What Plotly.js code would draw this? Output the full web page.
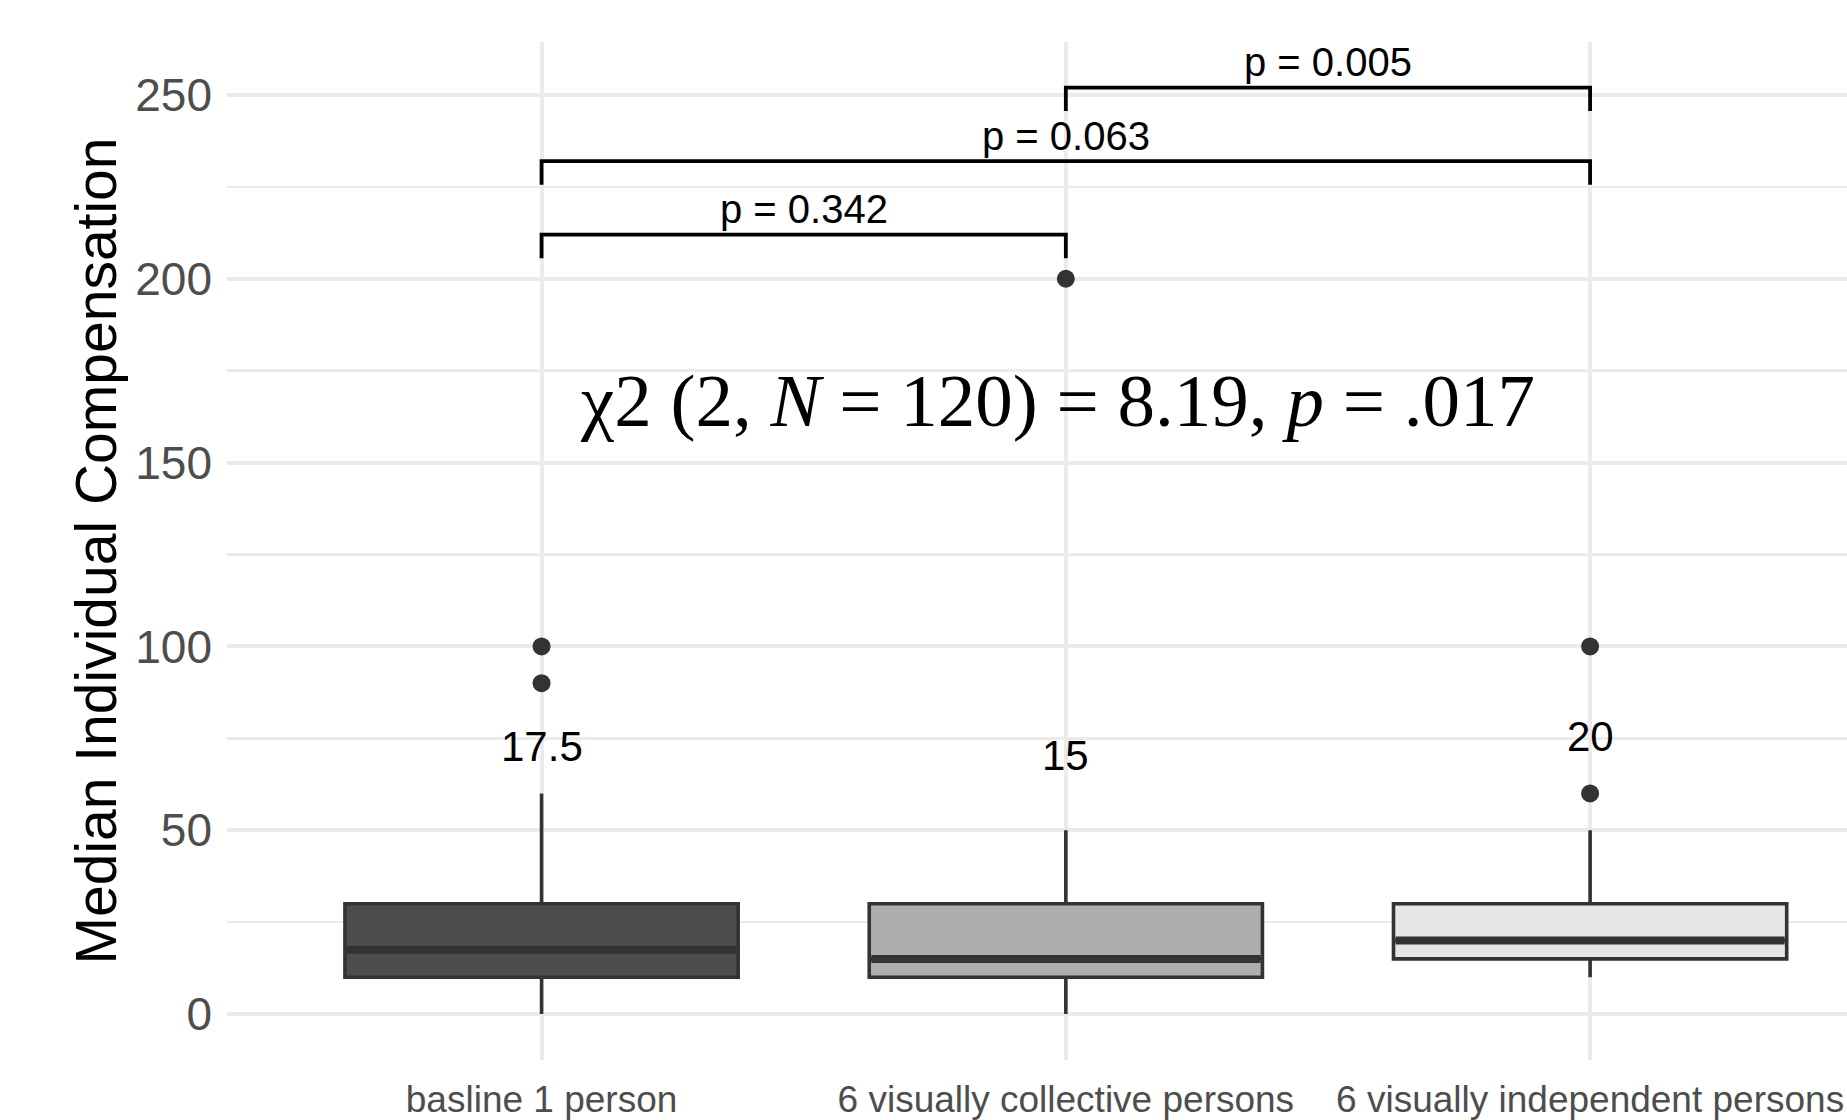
<!DOCTYPE html>
<html>
<head>
<meta charset="utf-8">
<script src="https://cdn.plot.ly/plotly-3.0.1.min.js"></script>
<style>html,body{margin:0;padding:0;background:#fff;}#chart{width:1847px;height:1120px;}</style>
</head>
<body>
<div id="chart"></div>
<script>
// ---- data ----
var categories = ["basline 1 person", "6 visually collective persons", "6 visually independent persons"];
var catPos = [1, 2, 3];
var q1Vals = [10, 10, 15];
var medianVals = [17.5, 15, 20];
var q3Vals = [30, 30, 30];
var lowerWhisker = [0, 0, 10];
var upperWhisker = [60, 50, 50];
var outliers = [[100, 90], [200], [100, 60]];
var medianLabels = ["17.5", "15", "20"];
var boxFills = ["#4D4D4D", "#AEAEAE", "#E6E6E6"];

var compStart = [1, 1, 2];
var compEnd = [2, 3, 3];
var bracketY = [212, 232, 252];
var pLabels = ["p = 0.342", "p = 0.063", "p = 0.005"];

var statText = "\u03c72 (2, <i>N</i> = 120) = 8.19, <i>p</i> = .017";
var statX = 2, statY = 167;

var yTicks = [0, 50, 100, 150, 200, 250];

// ---- style constants ----
var boxWidth = 0.75;
var tipLen = 6.4;
var pLabelGap = 6.9;
var medLabelGap = 55.4;
var FONT = "Liberation Sans, Arial, sans-serif";

var traces = [];
var annotations = [];

for (var i = 0; i < categories.length; i++) {
  traces.push({
    type: 'box', x: [catPos[i]], q1: [q1Vals[i]], median: [medianVals[i]], q3: [q3Vals[i]],
    lowerfence: [lowerWhisker[i]], upperfence: [upperWhisker[i]],
    width: boxWidth, whiskerwidth: 0, boxpoints: false,
    fillcolor: boxFills[i], line: {color: '#333333', width: 3.6},
    hoverinfo: 'skip', showlegend: false
  });
  // thick median line
  traces.push({
    type: 'scatter', mode: 'lines',
    x: [catPos[i] - boxWidth / 2 + 0.004, catPos[i] + boxWidth / 2 - 0.004],
    y: [medianVals[i], medianVals[i]],
    line: {color: '#333333', width: 8}, hoverinfo: 'skip', showlegend: false
  });
  // outliers
  traces.push({
    type: 'scatter', mode: 'markers',
    x: outliers[i].map(function () { return catPos[i]; }),
    y: outliers[i],
    marker: {color: '#333333', size: 18}, hoverinfo: 'skip', showlegend: false
  });
  annotations.push({
    x: catPos[i], y: medianVals[i] + medLabelGap, xref: 'x', yref: 'y',
    text: medianLabels[i], showarrow: false, xanchor: 'center', yanchor: 'middle',
    font: {family: FONT, size: 42, color: '#000000'}
  });
}

for (var j = 0; j < compStart.length; j++) {
  traces.push({
    type: 'scatter', mode: 'lines',
    x: [compStart[j], compStart[j], compEnd[j], compEnd[j]],
    y: [bracketY[j] - tipLen, bracketY[j], bracketY[j], bracketY[j] - tipLen],
    line: {color: '#000000', width: 3.8}, hoverinfo: 'skip', showlegend: false
  });
  annotations.push({
    x: (compStart[j] + compEnd[j]) / 2, y: bracketY[j] + pLabelGap, xref: 'x', yref: 'y',
    text: pLabels[j], showarrow: false, xanchor: 'center', yanchor: 'middle',
    font: {family: FONT, size: 40, color: '#000000'}
  });
}

annotations.push({
  x: statX, y: statY, xref: 'x', yref: 'y', text: statText, showarrow: false,
  xanchor: 'center', yanchor: 'middle', xshift: -8,
  font: {family: 'Liberation Serif, Times New Roman, serif', size: 75, color: '#000000'}
});

var layout = {
  width: 1847, height: 1120,
  margin: {l: 227, r: 0, t: 42, b: 60, pad: 0},
  paper_bgcolor: '#ffffff', plot_bgcolor: '#ffffff',
  showlegend: false,
  xaxis: {
    range: [0.4, 3.49], tickvals: catPos, ticktext: categories,
    showgrid: true, gridcolor: '#EBEBEB', gridwidth: 4,
    zeroline: false, showline: false, ticks: '',
    tickfont: {family: FONT, size: 37, color: '#4D4D4D'},
    ticklabelstandoff: 14, automargin: false, fixedrange: true
  },
  yaxis: {
    range: [-12.5, 264.4], tickvals: yTicks,
    showgrid: true, gridcolor: '#EBEBEB', gridwidth: 4,
    minor: {dtick: 25, tick0: 0, showgrid: true, gridcolor: '#EBEBEB', gridwidth: 2.5},
    zeroline: false, showline: false, ticks: '',
    tickfont: {family: FONT, size: 46, color: '#4D4D4D'},
    ticklabelstandoff: 14,
    title: {text: 'Median Individual Compensation', standoff: 0,
            font: {family: FONT, size: 57, color: '#000000'}},
    automargin: false, fixedrange: true
  },
  annotations: annotations
};

Plotly.newPlot('chart', traces, layout, {displayModeBar: false, staticPlot: true});
</script>
</body>
</html>
